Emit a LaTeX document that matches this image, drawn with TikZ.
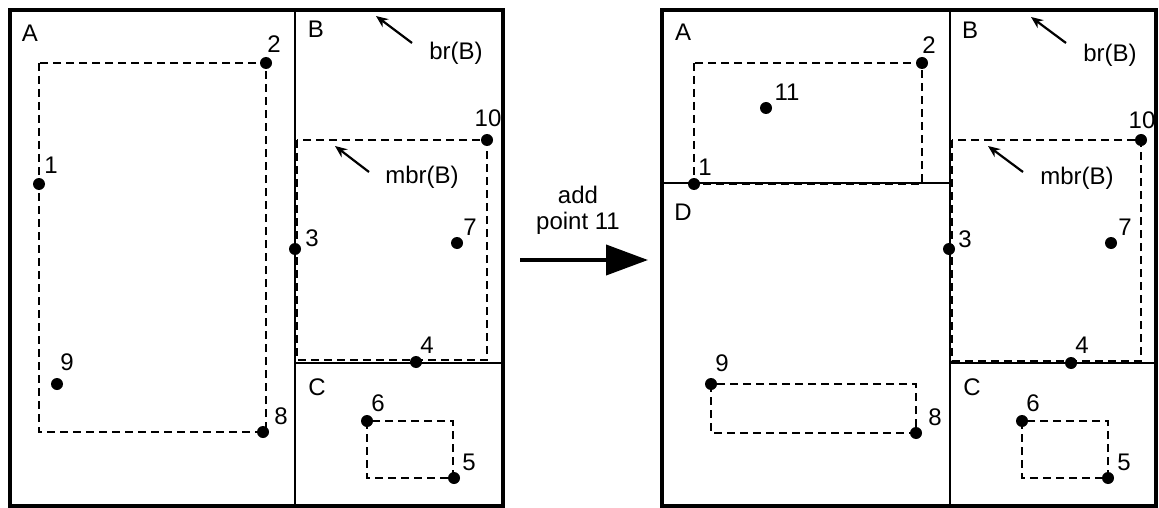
\documentclass[tikz,border=0pt]{standalone}
\usepackage{fontspec}
\setmainfont{Liberation Sans}
\usetikzlibrary{arrows.meta}
\begin{document}
\begin{tikzpicture}[x=1pt,y=-1pt,
  frame/.style={line width=4pt},
  divider/.style={line width=2pt},
  mbr/.style={line width=2.8pt,dash pattern=on 8pt off 5pt},
  pt/.style={circle,fill=black,inner sep=0pt,minimum size=12pt},
  lbl/.style={inner sep=0pt,font=\fontsize{24}{28}\selectfont},
  pointer/.style={line width=2.2pt,-{Stealth[length=12pt,width=10pt]}}]
\useasboundingbox (0,0) rectangle (1159,508);

% ---------- before: regions A, B, C ----------
\draw[frame] (10,10) rectangle (503,506);
\draw[divider] (295,10) -- (295,506);
\draw[divider] (295,363) -- (503,363);

\draw[mbr] (39,63) rectangle (266,432);
\draw[mbr] (297,140) rectangle (487,360);
\draw[mbr] (367,421) rectangle (453,478);

\node[pt] (l1) at (39,184) {};
\node[pt] (l2) at (266,63) {};
\node[pt] (l3) at (295,249) {};
\node[pt] (l4) at (416,362) {};
\node[pt] (l5) at (454,478) {};
\node[pt] (l6) at (367,421) {};
\node[pt] (l7) at (457,243) {};
\node[pt] (l8) at (263,432) {};
\node[pt] (l9) at (57,384) {};
\node[pt] (l10) at (487,140) {};

\node[lbl] (lA) at (30,33) {A};
\node[lbl] (lB) at (316,29) {B};
\node[lbl] (lC) at (317,387) {C};
\node[lbl] (t1) at (51,165) {1};
\node[lbl] (t2) at (274,44) {2};
\node[lbl] (t3) at (312,238) {3};
\node[lbl] (t4) at (427,345) {4};
\node[lbl] (t5) at (469,462) {5};
\node[lbl] (t6) at (378,403) {6};
\node[lbl] (t7) at (470,227) {7};
\node[lbl] (t8) at (281,416) {8};
\node[lbl] (t9) at (67,362) {9};
\node[lbl] (t10) at (488,118) {10};
\node[lbl] (lbr) at (456,53) {br(B)};
\node[lbl] (lmbr) at (422,177) {mbr(B)};
\coordinate (lbrtip) at (376,16);
\coordinate (lbrtail) at (412,43);
\coordinate (lmbrtip) at (335,146);
\coordinate (lmbrtail) at (369,172);
\draw[pointer] (lbrtail) -- (lbrtip);
\draw[pointer] (lmbrtail) -- (lmbrtip);

% ---------- transition ----------
\node[lbl] (add) at (578,195) {add};
\node[lbl] (addpt) at (578,223) {point 11};
\coordinate (arrs) at (520,260);
\coordinate (arre) at (648,260);
\draw[line width=4pt,-{Triangle[length=42pt,width=30pt]}] (arrs) -- (arre);

% ---------- after: regions A, D, B, C ----------
\draw[frame] (662,10) rectangle (1156,506);
\draw[divider] (950,10) -- (950,506);
\draw[divider] (950,363) -- (1156,363);
\draw[divider] (662,183) -- (950,183);

\draw[mbr] (694,63) rectangle (922,184);
\draw[mbr] (711,384) rectangle (916,433);
\draw[mbr] (952,140) rectangle (1141,361);
\draw[mbr] (1022,421) rectangle (1108,478);

\node[pt] (r1) at (694,184) {};
\node[pt] (r2) at (922,63) {};
\node[pt] (r3) at (949,249) {};
\node[pt] (r4) at (1071,363) {};
\node[pt] (r5) at (1108,478) {};
\node[pt] (r6) at (1022,421) {};
\node[pt] (r7) at (1111,243) {};
\node[pt] (r8) at (916,433) {};
\node[pt] (r9) at (711,384) {};
\node[pt] (r10) at (1141,140) {};
\node[pt] (r11) at (766,108) {};

\node[lbl] (rA) at (683,32) {A};
\node[lbl] (rD) at (683,212) {D};
\node[lbl] (rB) at (970,30) {B};
\node[lbl] (rC) at (972,387) {C};
\node[lbl] (s1) at (705,167) {1};
\node[lbl] (s2) at (929,45) {2};
\node[lbl] (s3) at (965,239) {3};
\node[lbl] (s4) at (1082,345) {4};
\node[lbl] (s5) at (1124,462) {5};
\node[lbl] (s6) at (1033,403) {6};
\node[lbl] (s7) at (1125,227) {7};
\node[lbl] (s8) at (935,417) {8};
\node[lbl] (s9) at (722,363) {9};
\node[lbl] (s10) at (1142,120) {10};
\node[lbl] (s11) at (787,92) {11};
\node[lbl] (rbr) at (1110,55) {br(B)};
\node[lbl] (rmbr) at (1077,178) {mbr(B)};
\coordinate (rbrtip) at (1031,17);
\coordinate (rbrtail) at (1066,43);
\coordinate (rmbrtip) at (988,146);
\coordinate (rmbrtail) at (1023,172);
\draw[pointer] (rbrtail) -- (rbrtip);
\draw[pointer] (rmbrtail) -- (rmbrtip);
\end{tikzpicture}
\end{document}
